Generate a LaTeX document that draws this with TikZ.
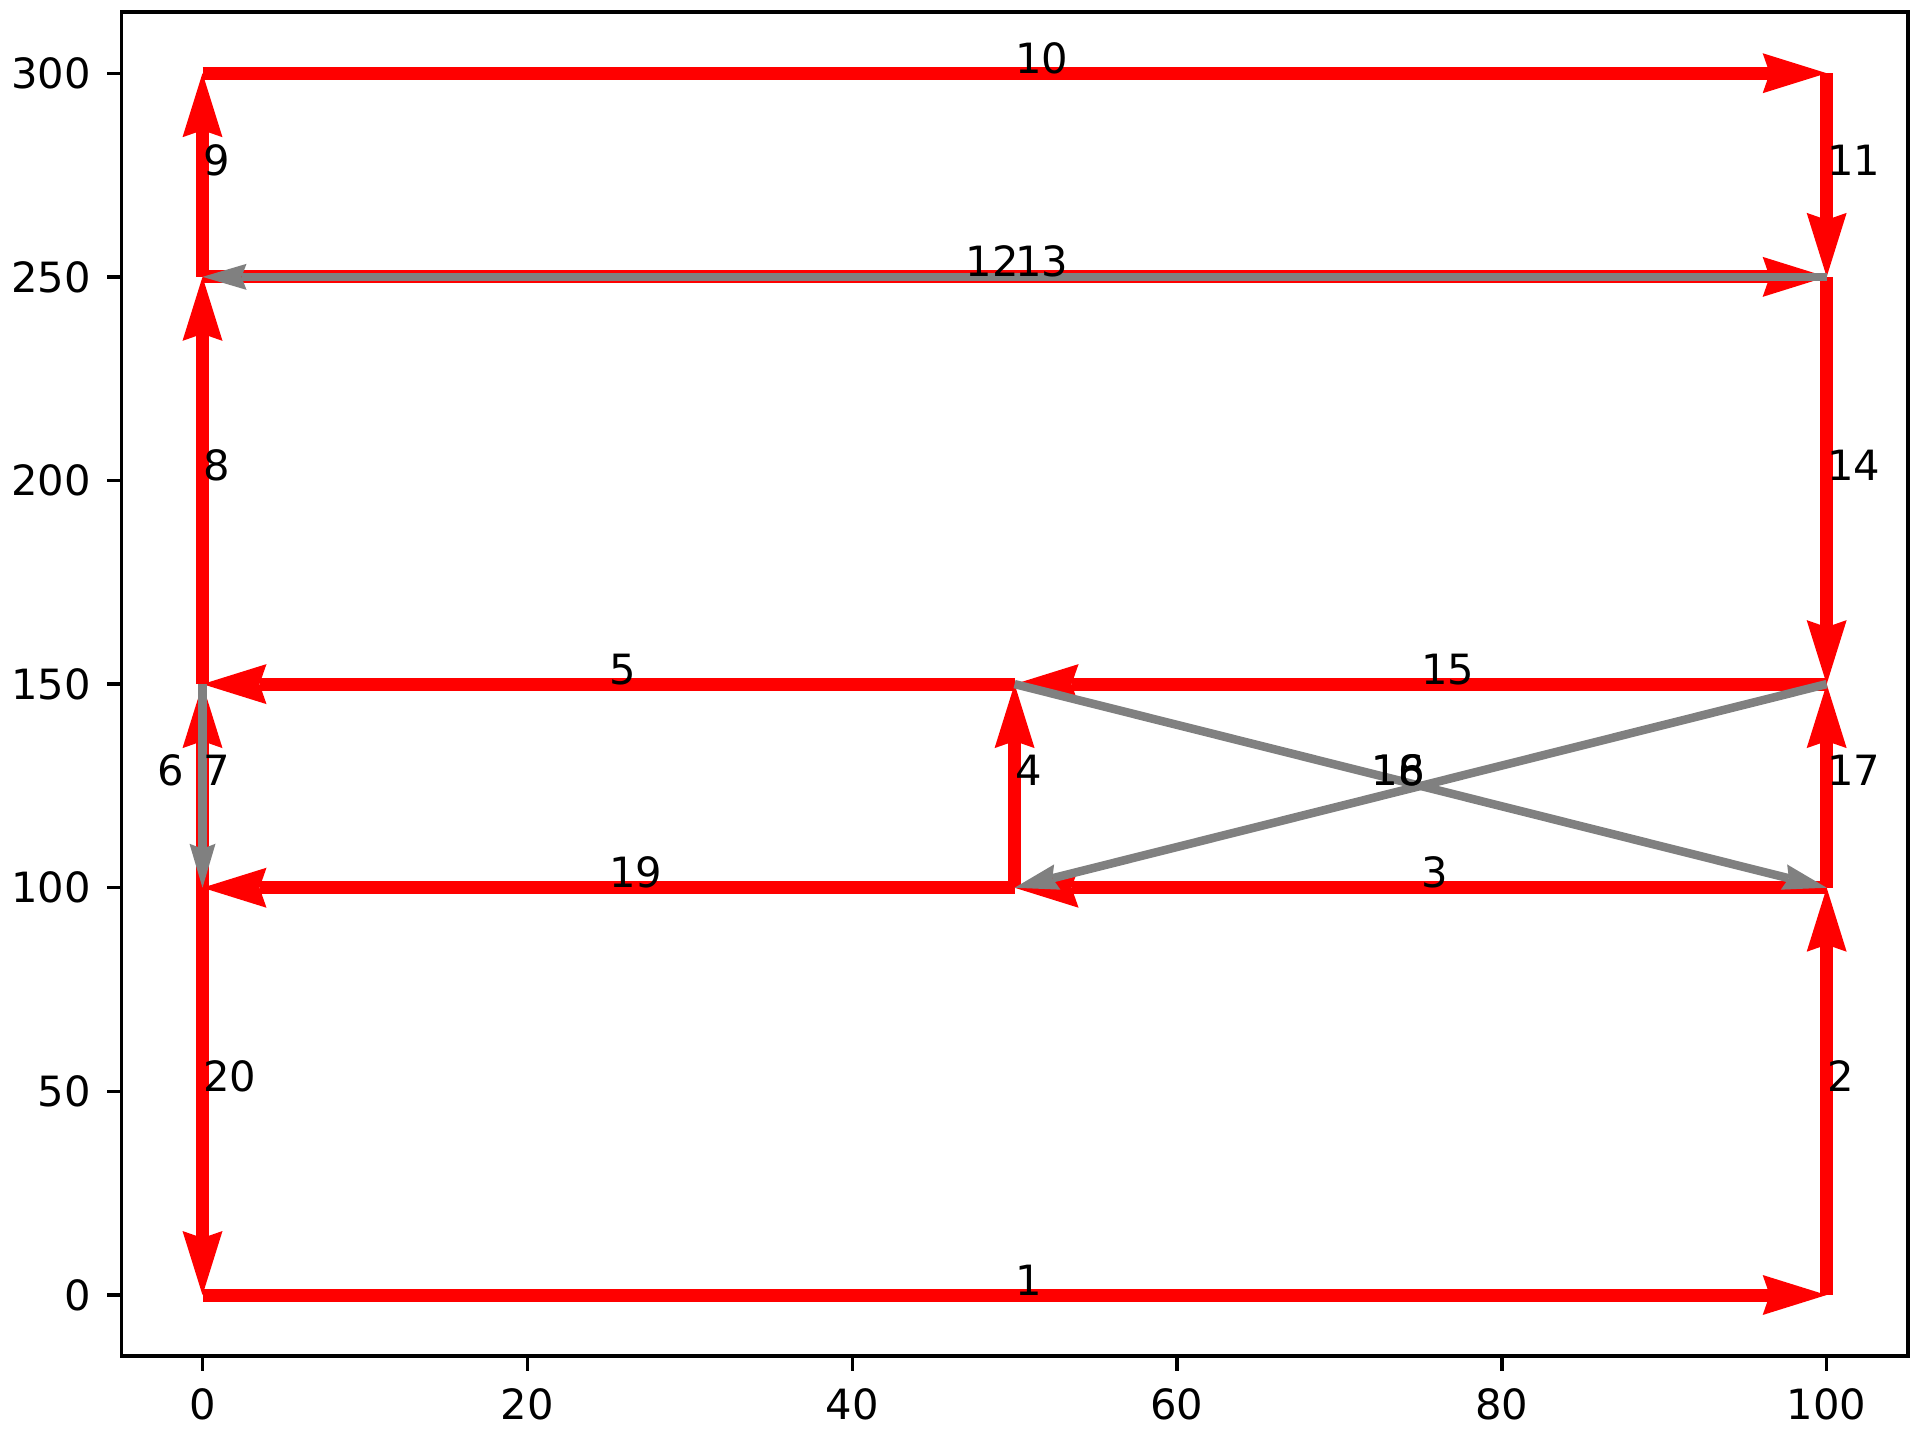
\documentclass[tikz,border=0pt]{standalone}
\usepackage{fontspec}
\setmainfont{DejaVu Sans}
\usetikzlibrary{arrows.meta}
\definecolor{mplgray}{RGB}{128,128,128}
\definecolor{mplred}{RGB}{255,0,0}
\begin{document}
\begin{tikzpicture}[
  redarrow/.style={draw=mplred, line width=1.3mm, -{Stealth[length=6.4mm,width=4mm,inset=0.7mm,line width=0pt]}},
  grayarrow/.style={draw=mplgray, line width=0.85mm, -{Stealth[length=4.4mm,width=2.6mm,inset=0.5mm,line width=0pt]}},
  lblL/.style={anchor=base west, inner sep=0pt, text=black, font=\fontsize{11.86}{14}\selectfont},
  lblR/.style={anchor=base east, inner sep=0pt, xshift=0.05cm, text=black, font=\fontsize{11.86}{14}\selectfont},
  axtick/.style={draw=black, line width=0.95pt},
  ticklbl/.style={inner sep=0pt, text=black, font=\fontsize{11.86}{14}\selectfont}
]
\useasboundingbox (0,0) rectangle (19.2,14.4);
\begin{scope}[shift={(2.025,1.45)}, x=0.16242cm, y=0.040723cm]
% points
\coordinate (A) at (0,0);
\coordinate (B) at (100,0);
\coordinate (C) at (100,100);
\coordinate (D) at (50,100);
\coordinate (E) at (50,150);
\coordinate (F) at (0,150);
\coordinate (G) at (0,100);
\coordinate (H) at (0,250);
\coordinate (I) at (0,300);
\coordinate (J) at (100,300);
\coordinate (K) at (100,250);
\coordinate (L) at (100,150);
% red edges
\draw[redarrow] (A) -- (B);   % 1
\draw[redarrow] (B) -- (C);   % 2
\draw[redarrow] (C) -- (D);   % 3
\draw[redarrow] (D) -- (E);   % 4
\draw[redarrow] (E) -- (F);   % 5
\draw[redarrow] (G) -- (F);   % 7
\draw[redarrow] (F) -- (H);   % 8
\draw[redarrow] (H) -- (I);   % 9
\draw[redarrow] (I) -- (J);   % 10
\draw[redarrow] (J) -- (K);   % 11
\draw[redarrow] (H) -- (K);   % 13
\draw[redarrow] (K) -- (L);   % 14
\draw[redarrow] (L) -- (E);   % 15
\draw[redarrow] (C) -- (L);   % 17
\draw[redarrow] (D) -- (G);   % 19
\draw[redarrow] (G) -- (A);   % 20
% gray edges
\draw[grayarrow] (F) -- (G);  % 6
\draw[grayarrow] (K) -- (H);  % 12
\draw[grayarrow] (E) -- (C);  % 16
\draw[grayarrow] (L) -- (D);  % 18
% labels
\path (A) -- node[lblL]{1} (B);
\path (B) -- node[lblL]{2} (C);
\path (C) -- node[lblL]{3} (D);
\path (D) -- node[lblL]{4} (E);
\path (E) -- node[lblL]{5} (F);
\path (F) -- node[lblR, xshift=-0.225cm]{6} (G);
\path (G) -- node[lblL]{7} (F);
\path (F) -- node[lblL]{8} (H);
\path (H) -- node[lblL]{9} (I);
\path (I) -- node[lblL]{10} (J);
\path (J) -- node[lblL]{11} (K);
\path (K) -- node[lblR]{12} (H);
\path (H) -- node[lblL]{13} (K);
\path (K) -- node[lblL]{14} (L);
\path (L) -- node[lblL]{15} (E);
\path (E) -- node[lblR]{16} (C);
\path (C) -- node[lblL]{17} (L);
\path (L) -- node[lblR]{18} (D);
\path (D) -- node[lblL]{19} (G);
\path (G) -- node[lblL]{20} (A);
% axes frame
\draw[line width=0.95pt] (-5,-15) rectangle (105,315);
\foreach \v in {0,20,...,100} {
  \draw[axtick] (\v,-15) -- ++(0,-0.146cm);
  \node[ticklbl, anchor=north, yshift=-0.32cm] at (\v,-15) {\v};
}
\foreach \v in {0,50,...,300} {
  \draw[axtick] (-5,\v) -- ++(-0.146cm,0);
  \node[ticklbl, anchor=east, xshift=-0.30cm] at (-5,\v) {\v};
}
\end{scope}
\end{tikzpicture}
\end{document}
